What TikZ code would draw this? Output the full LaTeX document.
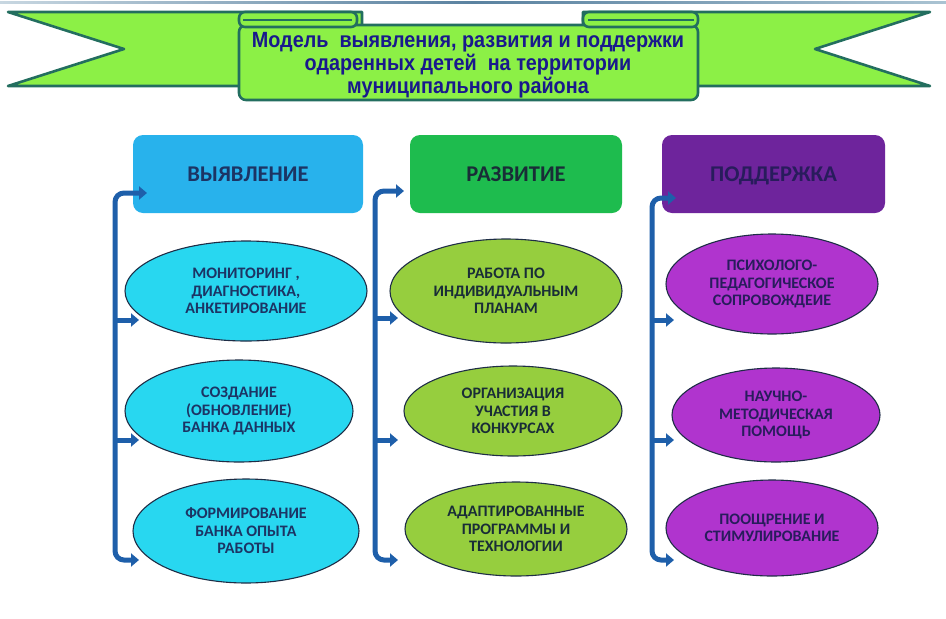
\documentclass[tikz,border=0pt]{standalone}
\usepackage{fontspec}
\setmainfont{Carlito}
\newfontfamily\titlefont[FakeStretch=0.9]{Liberation Sans}
\usetikzlibrary{arrows.meta,shapes.geometric}
\definecolor{ribgreen}{RGB}{140,240,70}
\definecolor{ribline}{RGB}{35,110,95}
\definecolor{titleblue}{RGB}{25,25,140}
\definecolor{hblue}{RGB}{40,178,236}
\definecolor{hgreen}{RGB}{30,188,78}
\definecolor{hpurple}{RGB}{110,36,156}
\definecolor{ecyan}{RGB}{40,215,240}
\definecolor{elime}{RGB}{150,206,62}
\definecolor{emag}{RGB}{176,52,206}
\definecolor{txtnavy}{RGB}{28,52,100}
\definecolor{txtdark}{RGB}{25,45,55}
\definecolor{txtpurp}{RGB}{40,28,92}
\definecolor{connblue}{RGB}{30,95,170}
\definecolor{eline}{RGB}{30,45,70}
\tikzset{
  ribbon/.style={fill=ribgreen, draw=ribline, line width=2.6pt, line join=round},
  hdr/.style={rounded corners=10pt, inner sep=0pt, text depth=0pt, font=\bfseries\fontsize{22.5}{24}\selectfont},
  ell/.style={ellipse, draw=eline, line width=1.1pt, inner sep=0pt, align=center,
              font=\bfseries\fontsize{16}{17.5}\selectfont},
  conn/.style={draw=connblue, line width=5pt, -{Triangle[length=8pt,width=13pt]}},
  conn2/.style={draw=connblue, line width=5pt, {Triangle[length=8pt,width=13pt]}-{Triangle[length=8pt,width=13pt]}},
}
\begin{document}
\begin{tikzpicture}[x=1pt,y=-1pt]
\useasboundingbox (0,0) rectangle (946,619);
\fill[white] (0,0) rectangle (946,619);
% top thin line
\shade[left color={rgb,255:red,200;green,215;blue,225}, right color={rgb,255:red,170;green,195;blue,210}, middle color={rgb,255:red,90;green,130;blue,160}] (0,1.5) rectangle (946,3.5);
% ribbon tails
\draw[ribbon] (8,12) -- (362,12) -- (362,86) -- (8,86) -- (124,49) -- cycle;
\draw[ribbon] (930,12) -- (583,12) -- (583,86) -- (930,86) -- (815,49) -- cycle;
% central panel
\draw[ribbon, rounded corners=7pt] (239,25) rectangle (698,100);
% curls
\draw[ribbon, rounded corners=6pt] (239,27) rectangle (357,12);
\draw[ribbon, rounded corners=6pt] (583,12) rectangle (698,27);
\draw[ribline, line width=1.4pt] (243,20) -- (352,20);
\draw[ribline, line width=1.4pt] (588,20) -- (694,20);
\node[align=center, text=titleblue, inner sep=0pt,
      font=\titlefont\bfseries\fontsize{22}{23}\selectfont] (title) at (468,65)
  {Модель\ \ выявления, развития и поддержки\\одаренных детей\ \ на территории\\муниципального района};
% headers
\node[hdr, fill=hblue, text=txtnavy, minimum width=230pt, minimum height=78pt] (h1) at (248,174) {ВЫЯВЛЕНИЕ};
\node[hdr, fill=hgreen, text=txtdark, minimum width=212pt, minimum height=78pt] (h2) at (516,174) {РАЗВИТИЕ};
\node[hdr, fill=hpurple, text=txtpurp, minimum width=223pt, minimum height=78pt] (h3) at (773.5,174) {ПОДДЕРЖКА};
% column 1 ellipses
\node[ell, fill=ecyan, text=txtnavy, minimum width=242pt, minimum height=100pt] (e11) at (246,291) {МОНИТОРИНГ ,\\ДИАГНОСТИКА,\\АНКЕТИРОВАНИЕ};
\node[ell, fill=ecyan, text=txtnavy, minimum width=228pt, minimum height=102pt] (e12) at (239,411) {СОЗДАНИЕ\\(ОБНОВЛЕНИЕ)\\БАНКА ДАННЫХ};
\node[ell, fill=ecyan, text=txtnavy, minimum width=226pt, minimum height=104pt] (e13) at (246,531) {ФОРМИРОВАНИЕ\\БАНКА ОПЫТА\\РАБОТЫ};
% column 2 ellipses
\node[ell, fill=elime, text=txtdark, minimum width=232pt, minimum height=104pt] (e21) at (506,291) {РАБОТА ПО\\ИНДИВИДУАЛЬНЫМ\\ПЛАНАМ};
\node[ell, fill=elime, text=txtdark, minimum width=218pt, minimum height=90pt] (e22) at (513,411) {ОРГАНИЗАЦИЯ\\УЧАСТИЯ В\\КОНКУРСАХ};
\node[ell, fill=elime, text=txtdark, minimum width=222pt, minimum height=94pt] (e23) at (516,529) {АДАПТИРОВАННЫЕ\\ПРОГРАММЫ И\\ТЕХНОЛОГИИ};
% column 3 ellipses
\node[ell, fill=emag, text=txtpurp, minimum width=212pt, minimum height=100pt] (e31) at (772,284) {ПСИХОЛОГО-\\ПЕДАГОГИЧЕСКОЕ\\СОПРОВОЖДЕИЕ};
\node[ell, fill=emag, text=txtpurp, minimum width=208pt, minimum height=94pt] (e32) at (776,415) {НАУЧНО-\\МЕТОДИЧЕСКАЯ\\ПОМОЩЬ};
\node[ell, fill=emag, text=txtpurp, minimum width=212pt, minimum height=96pt] (e33) at (772,528) {ПООЩРЕНИЕ И\\СТИМУЛИРОВАНИЕ};
% connector coordinates
\coordinate (t1) at (147,193); \coordinate (v1b) at (115,560);
\coordinate (v11) at (115,320); \coordinate (v12) at (115,440);
\coordinate (a11) at (139,320); \coordinate (a12) at (139,440); \coordinate (a13) at (139,560);
\coordinate (t2) at (404,191); \coordinate (v2b) at (375,560);
\coordinate (v21) at (375,318); \coordinate (v22) at (375,440);
\coordinate (a21) at (398,318); \coordinate (a22) at (398,440); \coordinate (a23) at (398,560);
\coordinate (t3) at (676,198); \coordinate (v3b) at (652,560);
\coordinate (v31) at (652,320); \coordinate (v32) at (652,440);
\coordinate (a31) at (674,320); \coordinate (a32) at (674,440); \coordinate (a33) at (674,560);
% connectors
\draw[conn2] (t1) [rounded corners=9pt] -| (v1b) [sharp corners] -- (a13);
\draw[conn] (v11) -- (a11);
\draw[conn] (v12) -- (a12);
\draw[conn2] (t2) [rounded corners=9pt] -| (v2b) [sharp corners] -- (a23);
\draw[conn] (v21) -- (a21);
\draw[conn] (v22) -- (a22);
\draw[conn2] (t3) [rounded corners=9pt] -| (v3b) [sharp corners] -- (a33);
\draw[conn] (v31) -- (a31);
\draw[conn] (v32) -- (a32);
\end{tikzpicture}
\end{document}
